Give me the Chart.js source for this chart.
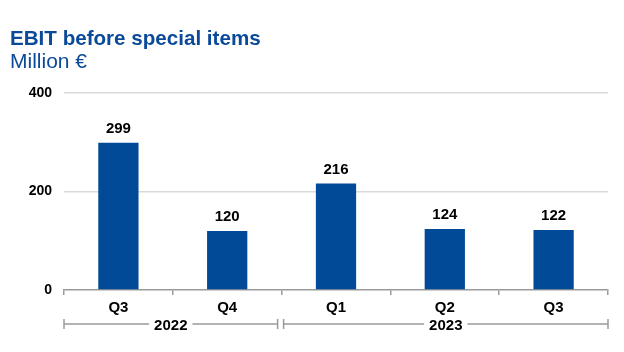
<!DOCTYPE html>
<html>
<head>
<meta charset="utf-8">
<script src="https://cdn.jsdelivr.net/npm/chart.js@4"></script>
<style>
  body { margin: 0; background: #fff; }
  #wrap { position: relative; width: 624px; height: 352px; }
  .t1 { position: absolute; left: 10px; top: 26px; font: bold 20.6px "Liberation Sans", Arial, sans-serif; color: #0b4a98; }
  .t2 { position: absolute; left: 10px; top: 49px; font: 21px "Liberation Sans", Arial, sans-serif; color: #0b4a98; }
</style>
</head>
<body>
<div id="wrap">
  <canvas id="c" width="624" height="352"></canvas>
  <div class="t1">EBIT before special items</div>
  <div class="t2">Million €</div>
</div>
<script>
const quarters = ["Q3", "Q4", "Q1", "Q2", "Q3"];
const ebit = [299, 120, 216, 124, 122];
const years = ["2022", "2023"];
const yearQuarterCount = [2, 3];
const yTicks = [0, 200, 400];

const FONT = '"Liberation Sans", Arial, sans-serif';
const BLUE = "#004a98";

const barLabels = {
  id: "barLabels",
  afterDatasetsDraw(chart) {
    const ctx = chart.ctx;
    const meta = chart.getDatasetMeta(0);
    ctx.save();
    ctx.font = "bold 15px " + FONT;
    ctx.fillStyle = "#000";
    ctx.textAlign = "center";
    ctx.textBaseline = "middle";
    meta.data.forEach((bar, i) => {
      ctx.fillText(String(ebit[i]), bar.x, bar.y - 14);
    });
    ctx.restore();
  }
};

const yearBrackets = {
  id: "yearBrackets",
  afterDraw(chart) {
    const ctx = chart.ctx;
    const x = chart.scales.x;
    const y = 324;
    let start = 0;
    ctx.save();
    ctx.font = "bold 15px " + FONT;
    ctx.textAlign = "center";
    ctx.textBaseline = "middle";
    years.forEach((yr, k) => {
      const end = start + yearQuarterCount[k];
      let x0 = x.getPixelForValue(start - 0.5);
      let x1 = x.getPixelForValue(end - 0.5);
      if (k > 0) x0 += 2;
      if (k < years.length - 1) x1 -= 4;
      const cx = (x0 + x1) / 2;
      const tw = ctx.measureText(yr).width + 10;
      ctx.strokeStyle = "#9a9a9a";
      ctx.lineWidth = 1.5;
      ctx.beginPath();
      ctx.moveTo(x0, y); ctx.lineTo(cx - tw / 2, y);
      ctx.moveTo(cx + tw / 2, y); ctx.lineTo(x1, y);
      ctx.moveTo(x0, y - 5); ctx.lineTo(x0, y + 5);
      ctx.moveTo(x1, y - 5); ctx.lineTo(x1, y + 5);
      ctx.stroke();
      ctx.fillStyle = "#000";
      ctx.fillText(yr, cx, y + 2);
      start = end;
    });
    ctx.restore();
  }
};

new Chart(document.getElementById("c"), {
  type: "bar",
  data: {
    labels: quarters,
    datasets: [{
      data: ebit,
      backgroundColor: BLUE,
      categoryPercentage: 1,
      barPercentage: 0.37
    }]
  },
  options: {
    responsive: false,
    animation: false,
    layout: { padding: { top: 93, right: 16, left: 0, bottom: 0 } },
    plugins: { legend: { display: false }, tooltip: { enabled: false } },
    scales: {
      x: {
        offset: true,
        grid: { display: true, drawOnChartArea: false, offset: true, tickLength: 5, color: "#9a9a9a", lineWidth: 1.5 },
        border: { display: true, color: "#9a9a9a", width: 1.5 },
        ticks: { font: { family: FONT, size: 15, weight: "bold" }, color: "#000", padding: 4 },
        afterFit(s) { s.height = 62; }
      },
      y: {
        min: 0,
        max: 400,
        afterBuildTicks(s) { s.ticks = yTicks.map(v => ({ value: v })); },
        grid: {
          drawTicks: false,
          color: ctx => ctx.tick && ctx.tick.value === 0 ? "rgba(0,0,0,0)" : "#d9d9d9",
          lineWidth: 1.5
        },
        border: { display: false },
        ticks: { font: { family: FONT, size: 14, weight: "bold" }, color: "#000", padding: 12 },
        afterFit(s) { s.width = 64; }
      }
    }
  },
  plugins: [barLabels, yearBrackets]
});
</script>
</body>
</html>
